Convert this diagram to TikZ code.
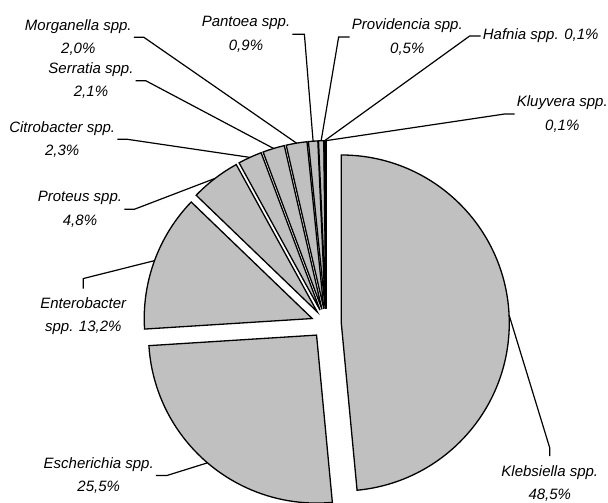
\documentclass[tikz,border=0pt]{standalone}
\usepackage{fontspec}
\setmainfont{Liberation Sans}
\definecolor{slicegray}{HTML}{C0C0C0}

\begin{document}
\begin{tikzpicture}[x=1pt,y=1pt,
	slice/.style={draw=black,line width=1.3pt,fill=slicegray},
	leader/.style={draw=black,line width=1.2pt},
	lbl/.style={font={\fontsize{15}{23.3}\selectfont\itshape},align=center,inner xsep=2pt,inner ysep=9pt}]
	\useasboundingbox (-326.3,-179.3) rectangle (281.7,323.7);
	\foreach \a/\b/\n in {90/-84.6/Kl,-84.6/-176.4/Es,-176.4/-223.92/En,-223.92/-241.2/Pr,
		-241.2/-249.48/Ci,-249.48/-257.04/Se,-257.04/-264.24/Mo,-264.24/-267.48/Pa,
		-267.48/-269.28/Pv,-269.28/-269.64/Ha,-269.64/-270/Ky}{
		\draw[slice] ({(\a+\b)/2}:15) -- ++(\a:168) arc[start angle=\a,end angle=\b,radius=168] -- cycle;
		\coordinate (\n) at ({(\a+\b)/2}:183);
	}
	\node[lbl] (MoL) at (-248,286.4) {Morganella spp.\\2,0\%};
	\node[lbl] (SeL) at (-235.3,243) {Serratia spp.\\2,1\%};
	\node[lbl] (CiL) at (-264.1,184.4) {Citrobacter spp.\\2,3\%};
	\node[lbl] (PrL) at (-246.3,114.4) {Proteus spp.\\4,8\%};
	\node[lbl] (EnL) at (-243,7.3) {Enterobacter\\spp. 13,2\%};
	\node[lbl] (EsL) at (-227.6,-151.8) {Escherichia spp.\\25,5\%};
	\node[lbl] (PaL) at (-80.3,289.4) {Pantoea spp.\\0,9\%};
	\node[lbl] (PvL) at (81,286.7) {Providencia spp.\\0,5\%};
	\node[lbl] (HaL) at (214.4,287.7) {Hafnia spp. 0,1\%};
	\node[lbl] (KyL) at (236,209.7) {Kluyvera spp.\\0,1\%};
	\node[lbl] (KlL) at (223.5,-159.6) {Klebsiella spp.\\48,5\%};
	\draw[leader] (MoL.east) -- ++(10,0) -- (Mo);
	\draw[leader] (SeL.east) -- ++(10,0) -- (Se);
	\draw[leader] (CiL.east) -- ++(10,0) -- (Ci);
	\draw[leader] (PrL.east) -- ++(10,0) -- (Pr);
	\draw[leader] (EsL.east) -- ++(11,0) -- (Es);
	\draw[leader] (PaL.east) -- ++(12,0) -- (Pa);
	\draw[leader] (PvL.west) -- ++(-11,0) -- (Pv);
	\draw[leader] (HaL.west) -- ++(-11,0) -- (Ha);
	\draw[leader] (KyL.west) -- ++(-10,0) -- (Ky);
	\draw[leader] (EnL.north) -- ++(0,10) -- (En);
	\draw[leader] (KlL.north) -- ++(0,8) -- (Kl);
\end{tikzpicture}
\end{document}
